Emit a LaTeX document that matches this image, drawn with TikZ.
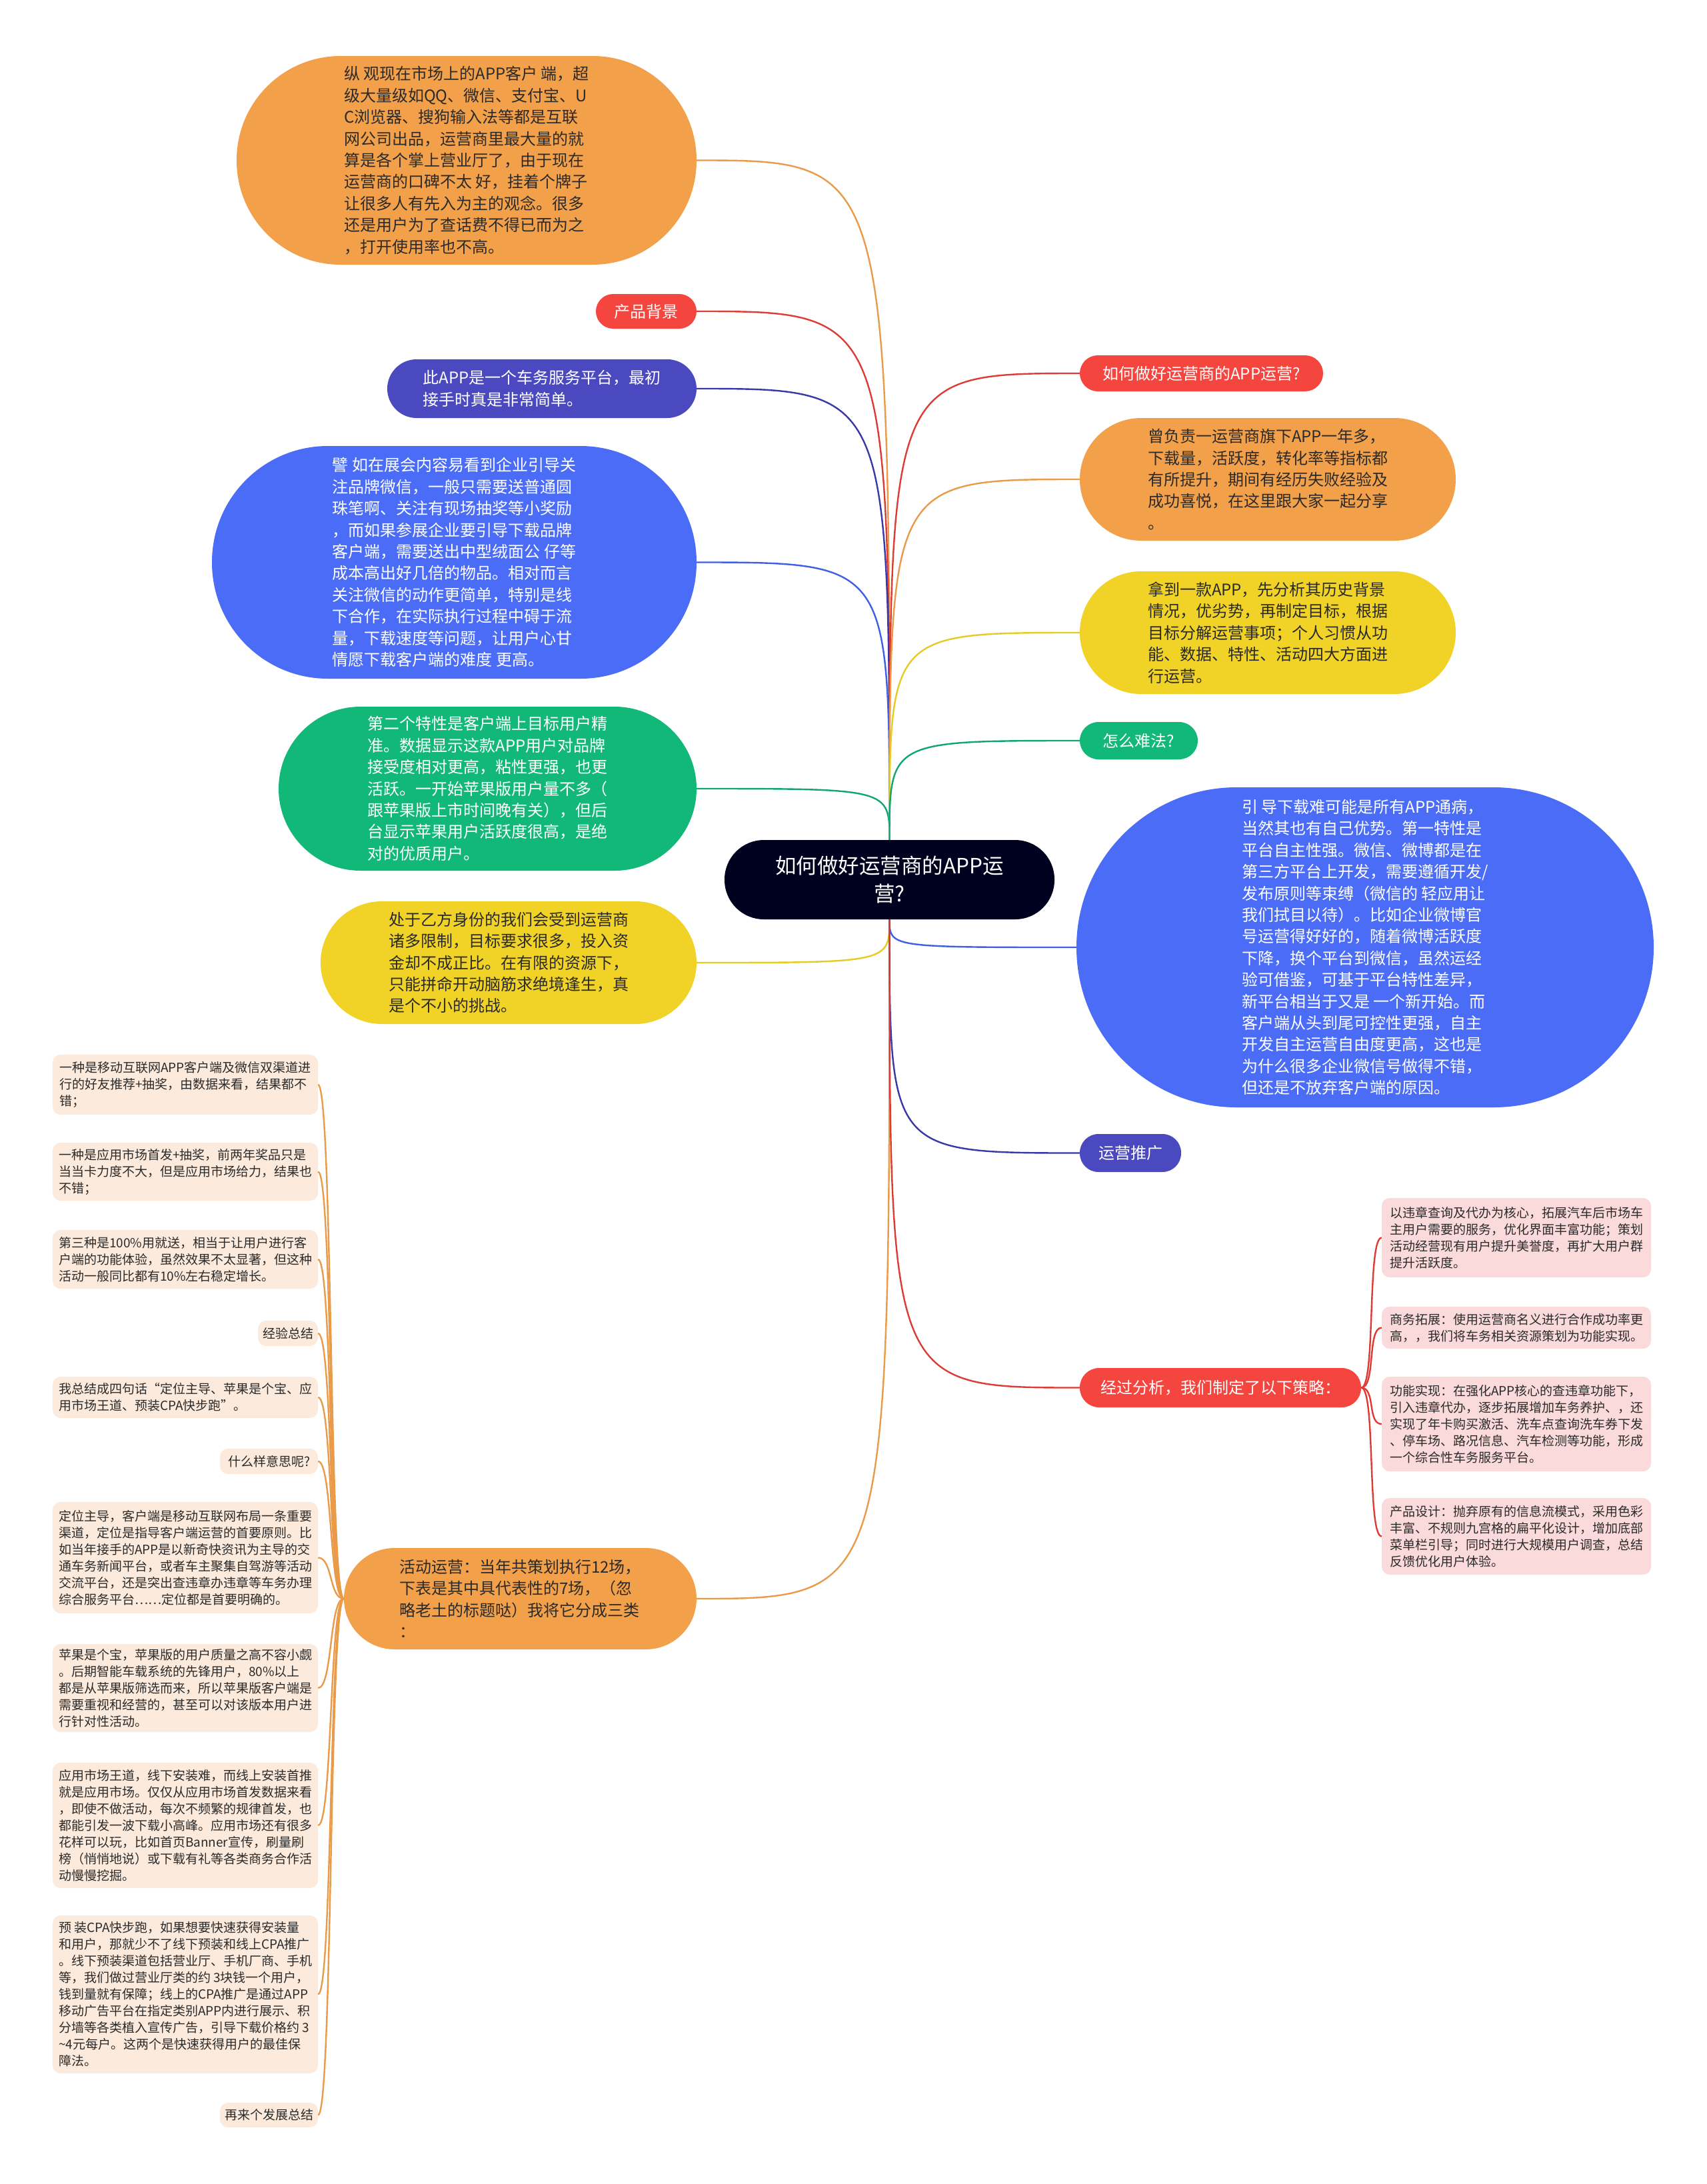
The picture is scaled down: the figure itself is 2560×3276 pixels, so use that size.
\documentclass[tikz,border=0pt]{standalone}
\usepackage{fontspec}
\setmainfont{Noto Sans CJK SC}
\usepackage{tikz}
\usetikzlibrary{positioning,calc}

\definecolor{rootB}{HTML}{00001F}
\definecolor{orangeB}{HTML}{F3A04A}
\definecolor{redB}{HTML}{F5453F}
\definecolor{indigoB}{HTML}{4B49BF}
\definecolor{blueB}{HTML}{4A6CF6}
\definecolor{greenB}{HTML}{12B878}
\definecolor{yellowB}{HTML}{F0D326}
\definecolor{pinkB}{HTML}{FADADA}
\definecolor{peachB}{HTML}{FCEADC}
\definecolor{orangeL}{HTML}{E99B4A}
\definecolor{redL}{HTML}{DD3C36}
\definecolor{indigoL}{HTML}{3838A8}
\definecolor{blueL}{HTML}{3F5FE6}
\definecolor{greenL}{HTML}{10A66E}
\definecolor{yellowL}{HTML}{E6CB22}
\definecolor{darktext}{HTML}{2A2A2A}

\newcommand{\fontbub}{\fontsize{24}{32.4}\selectfont}
\newcommand{\fontleaf}{\fontsize{19}{25}\selectfont}
\newcommand{\fontroot}{\fontsize{31.5}{42}\selectfont}

\tikzset{
    bubble/.style={rectangle, rounded corners=#1, inner sep=0pt, align=left, font=\fontbub},
    leaf/.style={rectangle, rounded corners=12pt, inner sep=0pt, align=left, font=\fontleaf, text=darktext},
    link/.style={line width=2.4pt},
}

\begin{document}
\begin{tikzpicture}[x=1pt,y=-1pt]
    \fill[white] (0,0) rectangle (2560,3276);
    \useasboundingbox (0,0) rectangle (2560,3276);

    % Root
    \node[bubble=59pt, fill=rootB, text=white, font=\fontroot, align=center, minimum width=495pt, minimum height=119pt] (root) at (1334.5,1319.5) {如何做好运营商的APP运\\营?};

    % Left branches
    \node[bubble=156pt, fill=orangeB, text=darktext, minimum width=690pt, minimum height=313pt] (market) at (700,240.5) {纵 观现在市场上的APP客户 端，超\\级大量级如QQ、微信、支付宝、U\\C浏览器、搜狗输入法等都是互联\\网公司出品，运营商里最大量的就\\算是各个掌上营业厅了，由于现在\\运营商的口碑不太 好，挂着个牌子\\让很多人有先入为主的观念。很多\\还是用户为了查话费不得已而为之\\，打开使用率也不高。};
    \node[bubble=26pt, fill=redB, text=white, minimum width=151pt, minimum height=52pt] (background) at (969.5,467) {产品背景};
    \node[bubble=44pt, fill=indigoB, text=white, minimum width=464pt, minimum height=88pt] (platform) at (813,583) {此APP是一个车务服务平台，最初\\接手时真是非常简单。};
    \node[bubble=174pt, fill=blueB, text=white, minimum width=727pt, minimum height=349pt] (expo) at (681.5,843.5) {譬 如在展会内容易看到企业引导关\\注品牌微信，一般只需要送普通圆\\珠笔啊、关注有现场抽奖等小奖励\\，而如果参展企业要引导下载品牌\\客户端，需要送出中型绒面公 仔等\\成本高出好几倍的物品。相对而言\\关注微信的动作更简单，特别是线\\下合作，在实际执行过程中碍于流\\量，下载速度等问题，让用户心甘\\情愿下载客户端的难度 更高。};
    \node[bubble=123pt, fill=greenB, text=white, minimum width=627pt, minimum height=246pt] (userfeature) at (731.5,1183) {第二个特性是客户端上目标用户精\\准。数据显示这款APP用户对品牌\\接受度相对更高，粘性更强，也更\\活跃。一开始苹果版用户量不多（\\跟苹果版上市时间晚有关），但后\\台显示苹果用户活跃度很高，是绝\\对的优质用户。};
    \node[bubble=92pt, fill=yellowB, text=darktext, minimum width=564pt, minimum height=184pt] (constraint) at (763,1444) {处于乙方身份的我们会受到运营商\\诸多限制，目标要求很多，投入资\\金却不成正比。在有限的资源下，\\只能拼命开动脑筋求绝境逢生，真\\是个不小的挑战。};
    \node[bubble=76pt, fill=orangeB, text=darktext, minimum width=529pt, minimum height=152pt] (activity) at (780.5,2398) {活动运营：当年共策划执行12场，\\下表是其中具代表性的7场，（忽\\略老土的标题哒）我将它分成三类\\：};

    % Right branches
    \node[bubble=27pt, fill=redB, text=white, minimum width=365pt, minimum height=54pt] (title) at (1802.5,560) {如何做好运营商的APP运营?};
    \node[bubble=92pt, fill=orangeB, text=darktext, minimum width=564pt, minimum height=184pt] (experience) at (1902,719) {曾负责一运营商旗下APP一年多，\\下载量，活跃度，转化率等指标都\\有所提升，期间有经历失败经验及\\成功喜悦，在这里跟大家一起分享\\。};
    \node[bubble=92pt, fill=yellowB, text=darktext, minimum width=564pt, minimum height=184pt] (analysis) at (1902,949) {拿到一款APP，先分析其历史背景\\情况，优劣势，再制定目标，根据\\目标分解运营事项；个人习惯从功\\能、数据、特性、活动四大方面进\\行运营。};
    \node[bubble=28pt, fill=greenB, text=white, minimum width=177pt, minimum height=56pt] (difficulty) at (1708.5,1111) {怎么难法?};
    \node[bubble=240pt, fill=blueB, text=white, minimum width=866pt, minimum height=480pt] (download) at (2048,1421) {引 导下载难可能是所有APP通病，\\当然其也有自己优势。第一特性是\\平台自主性强。微信、微博都是在\\第三方平台上开发，需要遵循开发/\\发布原则等束缚（微信的 轻应用让\\我们拭目以待）。比如企业微博官\\号运营得好好的，随着微博活跃度\\下降，换个平台到微信，虽然运经\\验可借鉴，可基于平台特性差异，\\新平台相当于又是 一个新开始。而\\客户端从头到尾可控性更强，自主\\开发自主运营自由度更高，这也是\\为什么很多企业微信号做得不错，\\但还是不放弃客户端的原因。};
    \node[bubble=28pt, fill=indigoB, text=white, minimum width=152pt, minimum height=57pt] (promotion) at (1696,1729.5) {运营推广};
    \node[bubble=29pt, fill=redB, text=white, minimum width=422pt, minimum height=59pt] (strategy) at (1831,2081.5) {经过分析，我们制定了以下策略：};

    % Strategy leaves
    \node[leaf, fill=pinkB, minimum width=404pt, minimum height=119pt] (violation) at (2275,1856.5) {以违章查询及代办为核心，拓展汽车后市场车\\主用户需要的服务，优化界面丰富功能；策划\\活动经营现有用户提升美誉度，再扩大用户群\\提升活跃度。};
    \node[leaf, fill=pinkB, minimum width=404pt, minimum height=63pt] (business) at (2275,1991.5) {商务拓展：使用运营商名义进行合作成功率更\\高，，我们将车务相关资源策划为功能实现。};
    \node[leaf, fill=pinkB, minimum width=404pt, minimum height=142pt] (feature) at (2275,2136) {功能实现：在强化APP核心的查违章功能下，\\引入违章代办，逐步拓展增加车务养护、，还\\实现了年卡购买激活、洗车点查询洗车券下发\\、停车场、路况信息、汽车检测等功能，形成\\一个综合性车务服务平台。};
    \node[leaf, fill=pinkB, minimum width=404pt, minimum height=115pt] (design) at (2275,2304.5) {产品设计：抛弃原有的信息流模式，采用色彩\\丰富、不规则九宫格的扁平化设计，增加底部\\菜单栏引导；同时进行大规模用户调查，总结\\反馈优化用户体验。};

    % Activity leaves
    \node[leaf, fill=peachB, minimum width=398pt, minimum height=90pt] (referral) at (278,1627) {一种是移动互联网APP客户端及微信双渠道进\\行的好友推荐+抽奖，由数据来看，结果都不\\错；};
    \node[leaf, fill=peachB, minimum width=398pt, minimum height=87pt] (storelaunch) at (278,1757.5) {一种是应用市场首发+抽奖，前两年奖品只是\\当当卡力度不大，但是应用市场给力，结果也\\不错；};
    \node[leaf, fill=peachB, minimum width=398pt, minimum height=88pt] (freeuse) at (278,1889) {第三种是100\%用就送，相当于让用户进行客\\户端的功能体验，虽然效果不太显著，但这种\\活动一般同比都有10\%左右稳定增长。};
    \node[leaf, fill=peachB, minimum width=90pt, minimum height=38pt] (summary) at (432,2000) {经验总结};
    \node[leaf, fill=peachB, minimum width=398pt, minimum height=62pt] (fourwords) at (278,2096) {我总结成四句话“定位主导、苹果是个宝、应\\用市场王道、预装CPA快步跑”。};
    \node[leaf, fill=peachB, minimum width=147pt, minimum height=38pt] (meaning) at (403.5,2192) {什么样意思呢?};
    \node[leaf, fill=peachB, minimum width=398pt, minimum height=167pt] (positioning) at (278,2336.5) {定位主导，客户端是移动互联网布局一条重要\\渠道，定位是指导客户端运营的首要原则。比\\如当年接手的APP是以新奇快资讯为主导的交\\通车务新闻平台，或者车主聚集自驾游等活动\\交流平台，还是突出查违章办违章等车务办理\\综合服务平台……定位都是首要明确的。};
    \node[leaf, fill=peachB, minimum width=398pt, minimum height=132pt] (apple) at (278,2532) {苹果是个宝，苹果版的用户质量之高不容小觑\\。后期智能车载系统的先锋用户，80\%以上\\都是从苹果版筛选而来，所以苹果版客户端是\\需要重视和经营的，甚至可以对该版本用户进\\行针对性活动。};
    \node[leaf, fill=peachB, minimum width=398pt, minimum height=188pt] (appstore) at (278,2738) {应用市场王道，线下安装难，而线上安装首推\\就是应用市场。仅仅从应用市场首发数据来看\\，即使不做活动，每次不频繁的规律首发，也\\都能引发一波下载小高峰。应用市场还有很多\\花样可以玩，比如首页Banner宣传，刷量刷\\榜（悄悄地说）或下载有礼等各类商务合作活\\动慢慢挖掘。};
    \node[leaf, fill=peachB, minimum width=398pt, minimum height=237pt] (preinstall) at (278,2991.5) {预 装CPA快步跑，如果想要快速获得安装量\\和用户，那就少不了线下预装和线上CPA推广\\。线下预装渠道包括营业厅、手机厂商、手机\\等，我们做过营业厅类的约 3块钱一个用户，\\钱到量就有保障；线上的CPA推广是通过APP\\移动广告平台在指定类别APP内进行展示、积\\分墙等各类植入宣传广告，引导下载价格约 3\\\textasciitilde4元每户。这两个是快速获得用户的最佳保\\障法。};
    \node[leaf, fill=peachB, minimum width=147pt, minimum height=37pt] (outlook) at (403.5,3172.5) {再来个发展总结};

    % Branch connectors from the root
    \draw[link, orangeL] (root.north) .. controls (root.north |- market.east) .. (market.east);
    \draw[link, redL] (root.north) .. controls (root.north |- background.east) .. (background.east);
    \draw[link, indigoL] (root.north) .. controls (root.north |- platform.east) .. (platform.east);
    \draw[link, blueL] (root.north) .. controls (root.north |- expo.east) .. (expo.east);
    \draw[link, greenL] (root.north) .. controls (root.north |- userfeature.east) .. (userfeature.east);
    \draw[link, yellowL] (root.south) .. controls (root.south |- constraint.east) .. (constraint.east);
    \draw[link, orangeL] (root.south) .. controls (root.south |- activity.east) .. (activity.east);
    \draw[link, redL] (root.north) .. controls (root.north |- title.west) .. (title.west);
    \draw[link, orangeL] (root.north) .. controls (root.north |- experience.west) .. (experience.west);
    \draw[link, yellowL] (root.north) .. controls (root.north |- analysis.west) .. (analysis.west);
    \draw[link, greenL] (root.north) .. controls (root.north |- difficulty.west) .. (difficulty.west);
    \draw[link, blueL] (root.south) .. controls (root.south |- download.west) .. (download.west);
    \draw[link, indigoL] (root.south) .. controls (root.south |- promotion.west) .. (promotion.west);
    \draw[link, redL] (root.south) .. controls (root.south |- strategy.west) .. (strategy.west);

    % Leaf connectors
    \foreach \c in {violation,business,feature,design}
        \draw[link, redL] (strategy.east) .. controls +(22,0) and +(-22,0) .. (\c.west);
    \foreach \c in {referral,storelaunch,freeuse,summary,fourwords,meaning,positioning,apple,appstore,preinstall,outlook}
        \draw[link, orangeL] (activity.west) .. controls +(-22,0) and +(22,0) .. (\c.east);
\end{tikzpicture}
\end{document}
